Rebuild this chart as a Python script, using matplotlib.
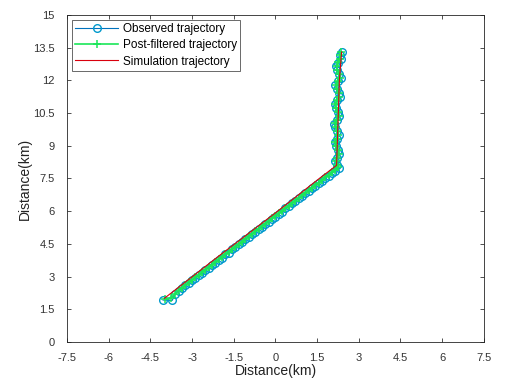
"""Observed, post-filtered and simulated trajectory plot."""

import matplotlib
matplotlib.use("Agg")
import matplotlib.pyplot as plt

plt.rcParams["font.family"] = ["Liberation Sans", "DejaVu Sans"]

# simulated (true) trajectory vertices
sim_x = [-4.0, -2.0, 0.0, 1.6, 2.2, 2.25, 2.3, 2.38]
sim_y = [2.0, 3.98, 5.92, 7.52, 8.1, 10.0, 12.0, 13.3]

# observed trajectory
obs_x = [-4.05, -3.72, -3.60, -3.48, -3.36, -3.24, -3.12, -3.00, -2.88, -2.76,
         -2.64, -2.52, -2.40, -2.28, -2.16, -2.04, -1.92, -1.80, -1.68, -1.56,
         -1.44, -1.32, -1.20, -1.08, -0.96, -0.84, -0.72, -0.60, -0.48, -0.36,
         -0.24, -0.12, 0.00, 0.12, 0.24, 0.36, 0.48, 0.60, 0.72, 0.84,
         0.96, 1.08, 1.20, 1.32, 1.44, 1.56, 1.68, 1.80, 1.92, 2.04,
         2.16, 2.30,
         2.20, 2.15, 2.22, 2.30, 2.25, 2.18, 2.13, 2.20, 2.28, 2.22,
         2.15, 2.12, 2.20, 2.30, 2.26, 2.18, 2.14, 2.22, 2.32, 2.28,
         2.20, 2.16, 2.24, 2.35, 2.30, 2.22, 2.18, 2.25, 2.35, 2.32, 2.38]
obs_y = [1.92, 1.90, 2.20, 2.35, 2.45, 2.60, 2.70, 2.84, 2.93, 3.07,
         3.16, 3.31, 3.40, 3.54, 3.63, 3.78, 3.87, 4.01, 4.10, 4.25,
         4.34, 4.48, 4.57, 4.72, 4.81, 4.95, 5.04, 5.19, 5.28, 5.42,
         5.51, 5.66, 5.75, 5.89, 5.98, 6.13, 6.22, 6.36, 6.45, 6.60,
         6.69, 6.83, 6.92, 7.07, 7.16, 7.30, 7.39, 7.54, 7.63, 7.76,
         7.85, 7.98,
         8.10, 8.28, 8.45, 8.62, 8.80, 8.98, 9.15, 9.32, 9.50, 9.68,
         9.85, 10.02, 10.20, 10.38, 10.55, 10.72, 10.90, 11.08, 11.25, 11.42,
         11.60, 11.78, 11.95, 12.12, 12.30, 12.48, 12.65, 12.82, 13.00, 13.15, 13.30]

# post-filtered trajectory
filt_x = [-3.98, -3.75, -3.61, -3.48, -3.36, -3.24, -3.12, -3.00, -2.88, -2.76,
          -2.64, -2.52, -2.40, -2.28, -2.16, -2.04, -1.92, -1.80, -1.68, -1.56,
          -1.44, -1.32, -1.20, -1.08, -0.96, -0.84, -0.72, -0.60, -0.48, -0.36,
          -0.24, -0.12, 0.00, 0.12, 0.24, 0.36, 0.48, 0.60, 0.72, 0.84,
          0.96, 1.08, 1.20, 1.32, 1.44, 1.56, 1.68, 1.80, 1.92, 2.04,
          2.15, 2.26,
          2.22, 2.18, 2.21, 2.27, 2.24, 2.19, 2.16, 2.20, 2.26, 2.22,
          2.17, 2.15, 2.20, 2.27, 2.25, 2.19, 2.16, 2.22, 2.29, 2.27,
          2.21, 2.18, 2.24, 2.32, 2.29, 2.23, 2.20, 2.25, 2.33, 2.32, 2.36]
filt_y = [1.95, 2.02, 2.22, 2.36, 2.48, 2.61, 2.73, 2.85, 2.96, 3.08,
          3.19, 3.32, 3.43, 3.55, 3.66, 3.79, 3.90, 4.02, 4.13, 4.26,
          4.37, 4.49, 4.60, 4.73, 4.84, 4.96, 5.07, 5.20, 5.31, 5.43,
          5.54, 5.67, 5.78, 5.90, 6.01, 6.14, 6.25, 6.37, 6.48, 6.61,
          6.72, 6.84, 6.95, 7.08, 7.19, 7.31, 7.42, 7.55, 7.66, 7.78,
          7.89, 8.01,
          8.12, 8.29, 8.46, 8.63, 8.80, 8.98, 9.15, 9.33, 9.50, 9.68,
          9.85, 10.03, 10.20, 10.38, 10.55, 10.73, 10.90, 11.08, 11.25, 11.43,
          11.60, 11.78, 11.95, 12.13, 12.30, 12.48, 12.65, 12.83, 13.00, 13.16, 13.30]

x_ticks = [-7.5, -6, -4.5, -3, -1.5, 0, 1.5, 3, 4.5, 6, 7.5]
y_ticks = [0, 1.5, 3, 4.5, 6, 7.5, 9, 10.5, 12, 13.5, 15]

fig = plt.figure(figsize=(5.05, 3.85), dpi=100)
ax = fig.add_axes([0.133, 0.112, 0.825, 0.849])

ax.plot(obs_x, obs_y, "-o", color=(0.0, 0.447, 0.741), markersize=5.5,
        markerfacecolor="none", markeredgecolor=(0.0, 0.6, 0.8),
        linewidth=0.8, label="Observed trajectory")
ax.plot(filt_x, filt_y, "-+", color=(0.1, 0.9, 0.35), markersize=6,
        markeredgewidth=1.1, linewidth=1.2, label="Post-filtered trajectory")
ax.plot(sim_x, sim_y, "-", color=(0.85, 0.0, 0.05), linewidth=0.8,
        label="Simulation trajectory")

ax.set_xlim(-7.5, 7.5)
ax.set_ylim(0, 15)
ax.set_xticks(x_ticks)
ax.set_xticklabels([f"{t:g}" for t in x_ticks])
ax.set_yticks(y_ticks)
ax.set_yticklabels([f"{t:g}" for t in y_ticks])
ax.tick_params(direction="in", top=True, right=True, labelsize=8,
               length=3, width=0.6, colors="#333333")
ax.tick_params(axis="x", pad=8)
ax.tick_params(axis="y", pad=9)
for spine in ax.spines.values():
    spine.set_linewidth(0.6)
    spine.set_color("#262626")

ax.set_xlabel("Distance(km)", fontsize=10, labelpad=1, color="#222222")
ax.set_ylabel("Distance(km)", fontsize=10, labelpad=1, color="#222222")

leg = ax.legend(loc="upper left", fontsize=8.5, frameon=True, fancybox=False,
                edgecolor="#262626", borderpad=0.3, labelspacing=0.35,
                handlelength=3.6, handletextpad=0.4, borderaxespad=0.4)
leg.get_frame().set_linewidth(0.6)

fig.savefig("out.png", dpi=100)
